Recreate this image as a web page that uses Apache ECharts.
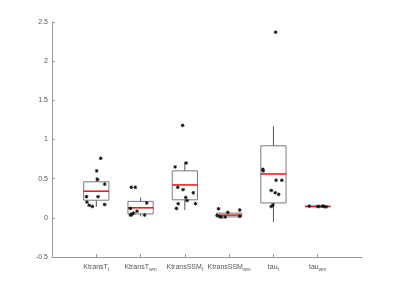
<!DOCTYPE html>
<html><head><meta charset="utf-8">
<script src="https://cdn.jsdelivr.net/npm/echarts@6/dist/echarts.min.js"></script>
<style>html,body{margin:0;padding:0;background:#fff}#c{width:400px;height:289px}</style>
</head><body><div id="c"></div>
<script>
// categories: [main text, subscript]
const categories = [["KtransT","t"],["KtransT","wm"],["KtransSSM","t"],["KtransSSM","wm"],["tau","t"],["tau","wm"]];
// box stats per category: [lower whisker, q1, median, q3, upper whisker]
const boxStats = [
  [0.14, 0.225, 0.34, 0.46, 0.52],
  [0.02, 0.05, 0.128, 0.21, 0.26],
  [0.10, 0.23, 0.42, 0.60, 0.71],
  [0.01, 0.012, 0.035, 0.06, 0.06],
  [-0.055, 0.19, 0.56, 0.92, 1.17],
  [0.14, 0.143, 0.145, 0.148, 0.15]
];
// individual points: per category, jitter offsets and values
const jitter = [
  [0.10, 0.01, 0.03, 0.19, -0.22, 0.04, -0.21, -0.16, -0.09, 0.19],
  [-0.21, -0.12, 0.14, -0.23, -0.08, -0.16, -0.21, -0.23, 0.09, -0.19],
  [-0.05, -0.22, 0.03, -0.16, -0.04, 0.19, 0.02, 0.05, -0.15, 0.24, -0.19],
  [-0.24, -0.03, 0.24, -0.21, -0.09, 0.24, -0.18, -0.27],
  [0.05, -0.24, -0.23, 0.06, 0.19, -0.05, 0.04, 0.12, -0.01, -0.05],
  [-0.19, 0.03, 0.11, 0.15, 0.19, 0.0]
];
const values = [
  [0.76, 0.60, 0.49, 0.43, 0.27, 0.27, 0.20, 0.16, 0.145, 0.17],
  [0.39, 0.39, 0.19, 0.12, 0.085, 0.06, 0.04, 0.035, 0.035, 0.05],
  [1.18, 0.65, 0.70, 0.39, 0.36, 0.32, 0.26, 0.22, 0.18, 0.18, 0.12],
  [0.115, 0.07, 0.10, 0.017, 0.01, 0.02, 0.01, 0.03],
  [2.37, 0.62, 0.60, 0.48, 0.48, 0.35, 0.32, 0.30, 0.165, 0.145],
  [0.15, 0.145, 0.15, 0.145, 0.14, 0.145]
];
const yTicks = [-0.5, 0, 0.5, 1, 1.5, 2, 2.5];

const boxData = boxStats.map((s, i) => [i + 1].concat(s));
const pointData = [];
values.forEach((arr, i) => arr.forEach((v, j) => pointData.push([i + 1 + jitter[i][j], v])));

const FONT = 'Liberation Sans, Arial';
const chart = echarts.init(document.getElementById('c'), null, {renderer: 'canvas'});
chart.setOption({
  animation: false,
  grid: {left: 52, right: 38, top: 22, bottom: 32},
  xAxis: {
    type: 'value', min: 0, max: 7, interval: 1,
    axisLine: {show: true, onZero: false, lineStyle: {color: '#9a9a9a', width: 1}},
    axisTick: {show: true, inside: true, length: 3, lineStyle: {color: '#9a9a9a'}, customValues: [1,2,3,4,5,6]},
    splitLine: {show: false},
    axisLabel: {
      customValues: [1,2,3,4,5,6],
      margin: 5,
      formatter: function (v) {
        const c = categories[Math.round(v) - 1];
        if (!c) return '';
        return '{a|' + c[0] + '}{s|' + c[1] + '}';
      },
      rich: {
        a: {fontFamily: FONT, fontSize: 7, color: '#555', lineHeight: 10},
        s: {fontFamily: FONT, fontSize: 5, color: '#555', padding: [6, 0, 0, 0], lineHeight: 10}
      }
    }
  },
  yAxis: {
    type: 'value', min: -0.5, max: 2.5, interval: 0.5,
    axisLine: {show: true, onZero: false, lineStyle: {color: '#9a9a9a', width: 1}},
    axisTick: {show: true, inside: true, length: 3, lineStyle: {color: '#9a9a9a'}},
    splitLine: {show: false},
    axisLabel: {fontFamily: FONT, fontSize: 7, color: '#555', margin: 4,
      customValues: yTicks}
  },
  series: [
    {
      type: 'custom',
      data: boxData,
      encode: {x: 0, y: [1, 2, 3, 4, 5]},
      renderItem: function (params, api) {
        const x = api.value(0);
        const lo = api.coord([x, api.value(1)]);
        const q1 = api.coord([x, api.value(2)]);
        const md = api.coord([x, api.value(3)]);
        const q3 = api.coord([x, api.value(4)]);
        const hi = api.coord([x, api.value(5)]);
        const hw = api.size([1, 0])[0] * 0.285;
        const cx = lo[0];
        const ws = {stroke: '#555', lineWidth: 1};
        return {
          type: 'group',
          children: [
            {type: 'line', shape: {x1: cx, y1: hi[1], x2: cx, y2: q3[1]}, style: ws},
            {type: 'line', shape: {x1: cx, y1: q1[1], x2: cx, y2: lo[1]}, style: ws},
            {type: 'rect', shape: {x: cx - hw, y: q3[1], width: 2 * hw, height: q1[1] - q3[1]},
              style: {fill: 'none', stroke: '#7a7a7a', lineWidth: 1}},
            {type: 'line', shape: {x1: cx - hw, y1: md[1], x2: cx + hw, y2: md[1]},
              style: {stroke: '#ee1111', lineWidth: 1.5}, z2: 10}
          ]
        };
      },
      z: 2
    },
    {
      type: 'custom',
      data: pointData,
      encode: {x: 0, y: 1},
      renderItem: function (params, api) {
        const p = api.coord([api.value(0), api.value(1)]);
        const r = 1.8;
        const st = {stroke: '#111', lineWidth: 1};
        return {
          type: 'group',
          children: [
            {type: 'line', shape: {x1: p[0] - r, y1: p[1], x2: p[0] + r, y2: p[1]}, style: st},
            {type: 'line', shape: {x1: p[0], y1: p[1] - r, x2: p[0], y2: p[1] + r}, style: st},
            {type: 'line', shape: {x1: p[0] - r * 0.7, y1: p[1] - r * 0.7, x2: p[0] + r * 0.7, y2: p[1] + r * 0.7}, style: st},
            {type: 'line', shape: {x1: p[0] - r * 0.7, y1: p[1] + r * 0.7, x2: p[0] + r * 0.7, y2: p[1] - r * 0.7}, style: st}
          ]
        };
      },
      z: 3
    }
  ]
});
</script>
</body></html>
